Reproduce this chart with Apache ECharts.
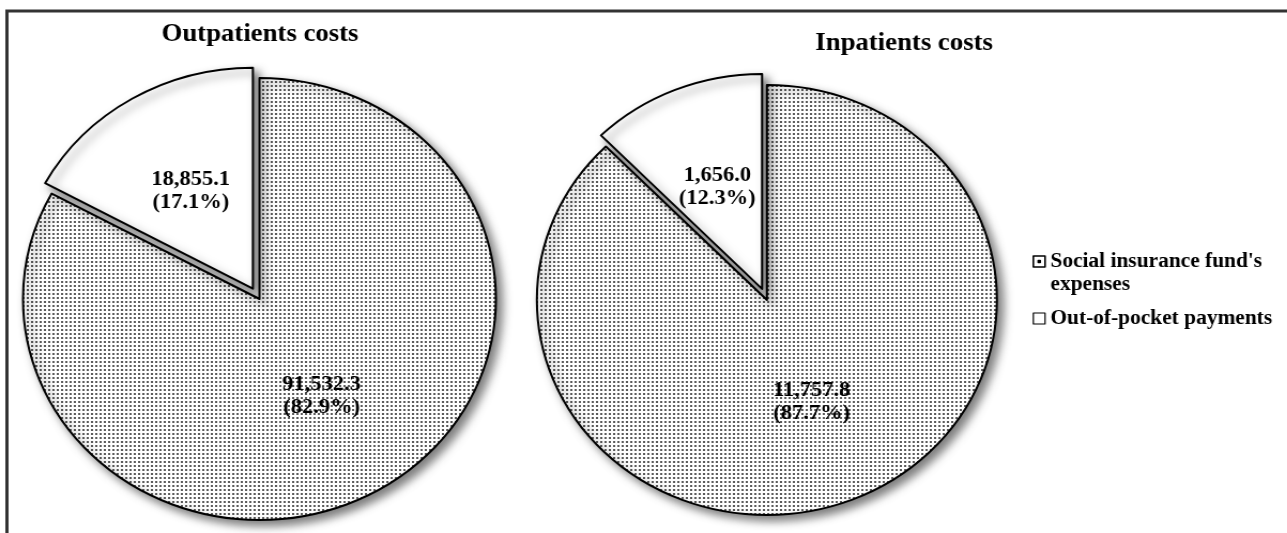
<!DOCTYPE html>
<html>
<head>
<meta charset="utf-8">
<script src="https://cdn.jsdelivr.net/npm/echarts@6/dist/echarts.min.js"></script>
<style>
  html, body { margin: 0; padding: 0; background: #fff; overflow: hidden; }
  /* the figure is drawn slightly narrower and widened horizontally */
  #chart { width: 1203px; height: 533px; transform: scaleX(1.0699); transform-origin: 0 0; }
</style>
</head>
<body>
<div id="chart"></div>
<script>
// Cost breakdown, two panels
const categories = ["Social insurance fund's expenses", "Out-of-pocket payments"];
// a leading blank line keeps the first text line level with its legend icon
const legendLabels = ["\nSocial insurance fund's\nexpenses", "Out-of-pocket payments"];
const outpatientValues = [91532.3, 18855.1];
const inpatientValues = [11757.8, 1656.0];
const panelTitles = ['Outpatients costs', 'Inpatients costs'];

const FONT = 'Liberation Serif';

// dotted fill tile
function dotTile() {
  const c = document.createElement('canvas');
  c.width = 4; c.height = 4;
  const g = c.getContext('2d');
  g.fillStyle = '#ffffff';
  g.fillRect(0, 0, 4, 4);
  g.fillStyle = '#5c5c5c';
  g.fillRect(1, 1, 2, 2);
  return c;
}
const dotted = { image: dotTile(), repeat: 'repeat' };

const fills = [dotted, '#ffffff'];
const sliceStyle = {
  borderColor: '#000',
  borderWidth: 2,
  shadowBlur: 9,
  shadowOffsetX: 5,
  shadowOffsetY: 5,
  shadowColor: 'rgba(0,0,0,0.5)'
};

function fmt(v) {
  return v.toLocaleString('en-US', { minimumFractionDigits: 1, maximumFractionDigits: 1 });
}

function pieSeries(values, center, radius) {
  return {
    type: 'pie',
    center: center,
    radius: radius,
    startAngle: 90,
    clockwise: true,
    selectedMode: 'single',
    selectedOffset: 12,
    silent: true,
    animation: false,
    percentPrecision: 1,
    label: {
      show: true,
      position: 'inside',
      color: '#000',
      fontFamily: FONT,
      fontWeight: 'bold',
      fontSize: 21,
      lineHeight: 23,
      formatter: p => fmt(p.value) + '\n(' + p.percent.toFixed(1) + '%)'
    },
    labelLine: { show: false },
    emphasis: { disabled: true },
    data: values.map((v, i) => {
      const st = Object.assign({ color: fills[i] }, sliceStyle);
      return {
        name: categories[i],
        value: v,
        selected: i === 1,
        itemStyle: st,
        select: { itemStyle: st }
      };
    })
  };
}

const chart = echarts.init(document.getElementById('chart'), null, { renderer: 'canvas' });

chart.setOption({
  backgroundColor: '#fff',
  animation: false,
  legend: {
    orient: 'vertical',
    left: 965,
    top: 227,
    padding: 0,
    itemGap: 11,
    itemWidth: 11,
    itemHeight: 11,
    selectedMode: false,
    textStyle: {
      fontFamily: FONT,
      fontWeight: 'bold',
      fontSize: 20,
      lineHeight: 23,
      color: '#000'
    },
    formatter: name => legendLabels[categories.indexOf(name)],
    data: [
      {
        name: categories[0],
        icon: 'path://M0,0H12V12H0Z M5,5H7V7H5Z',
        itemStyle: { color: '#fff', borderColor: '#000', borderWidth: 1.6, shadowBlur: 0, shadowOffsetX: 0, shadowOffsetY: 0 }
      },
      {
        name: categories[1],
        icon: 'rect',
        itemStyle: { color: '#fff', borderColor: '#000', borderWidth: 1.2, shadowBlur: 0, shadowOffsetX: 0, shadowOffsetY: 0 }
      }
    ]
  },
  graphic: [
    {
      type: 'rect',
      silent: true,
      shape: { x: 6.5, y: 11, width: 1400, height: 800 },
      style: { fill: 'none', stroke: '#333', lineWidth: 3 }
    },
    {
      type: 'text',
      x: 243, y: 35,
      style: {
        text: panelTitles[0], align: 'center', verticalAlign: 'middle',
        fontFamily: FONT, fontWeight: 'bold', fontSize: 25, fill: '#000'
      }
    },
    {
      type: 'text',
      x: 845, y: 44,
      style: {
        text: panelTitles[1], align: 'center', verticalAlign: 'middle',
        fontFamily: FONT, fontWeight: 'bold', fontSize: 25, fill: '#000'
      }
    }
  ],
  series: [
    pieSeries(outpatientValues, [242.5, 299], 221),
    pieSeries(inpatientValues, [716.8, 300], 215)
  ]
});
</script>
</body>
</html>
